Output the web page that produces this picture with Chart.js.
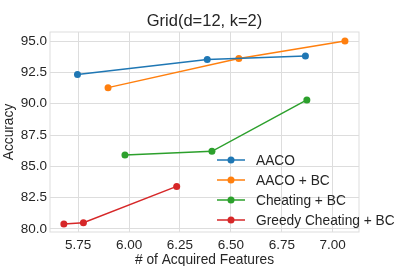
<!DOCTYPE html>
<html>
<head>
<meta charset="utf-8">
<script src="https://cdn.jsdelivr.net/npm/chart.js@4"></script>
<style>
  html, body { margin: 0; padding: 0; background: #fff; }
  #wrap { width: 399px; height: 266px; }
</style>
</head>
<body>
<div id="wrap"><canvas id="grid__chart"></canvas></div>
<script>
// values
const chartTitle = "Grid(d=12, k=2)"
const seriesNames = ["AACO", "AACO + BC", "Cheating + BC", "Greedy Cheating + BC"]
const seriesColors = ["#1f77b4", "#ff7f0e", "#2ca02c", "#d62728"]

const aacoX = [5.747, 6.384, 6.866]
const aacoY = [92.32, 93.52, 93.8]
const aacoBcX = [5.897, 6.539, 7.06]
const aacoBcY = [91.28, 93.6, 95.0]
const cheatX = [5.98, 6.407, 6.873]
const cheatY = [85.91, 86.2, 90.3]
const greedyX = [5.68, 5.776, 6.234]
const greedyY = [80.4, 80.5, 83.4]

const xTicks = [5.75, 6.0, 6.25, 6.5, 6.75, 7.0]
const yTicks = [80.0, 82.5, 85.0, 87.5, 90.0, 92.5, 95.0]

const xs = [aacoX, aacoBcX, cheatX, greedyX]
const ys = [aacoY, aacoBcY, cheatY, greedyY]

const FONT = "'Liberation Sans', Arial, sans-serif"
const TXT = "#262626"
const GRID = "#dddddd"

const datasets = seriesNames.map((name, i) => ({
  label: name,
  data: xs[i].map((x, j) => ({ x: x, y: ys[i][j] })),
  borderColor: seriesColors[i],
  backgroundColor: seriesColors[i],
  borderWidth: 1.5,
  pointRadius: 3.5,
  pointHoverRadius: 3.5,
  pointBorderWidth: 0,
  tension: 0,
}))

// title, box around plot area and a frameless legend, like matplotlib
const boxAndLegend = {
  id: "boxAndLegend",
  beforeDatasetsDraw(chart) {
    const { ctx, chartArea: a } = chart
    ctx.save()
    ctx.strokeStyle = GRID
    ctx.lineWidth = 1
    ctx.strokeRect(a.left, a.top, a.right - a.left, a.bottom - a.top)
    ctx.restore()
  },
  afterDraw(chart) {
    const { ctx, chartArea: a } = chart
    ctx.save()
    ctx.fillStyle = TXT
    ctx.font = "16.5px " + FONT
    ctx.textAlign = "center"
    ctx.textBaseline = "middle"
    ctx.fillText(chartTitle, (a.left + a.right) / 2, 21)

    ctx.font = "13.75px " + FONT
    ctx.textAlign = "left"
    chart.data.datasets.forEach((ds, i) => {
      const y = 160 + i * 20
      ctx.strokeStyle = ds.borderColor
      ctx.lineWidth = 1.5
      ctx.beginPath()
      ctx.moveTo(217, y)
      ctx.lineTo(245, y)
      ctx.stroke()
      ctx.fillStyle = ds.borderColor
      ctx.beginPath()
      ctx.arc(231, y, 3.5, 0, Math.PI * 2)
      ctx.fill()
      ctx.fillStyle = TXT
      ctx.fillText(ds.label, 256, y + 1)
    })
    ctx.restore()
  },
}

const myChart = document.getElementById("grid__chart")
var gridChart = new Chart(myChart, {
  type: "line",
  data: { datasets: datasets },
  plugins: [boxAndLegend],
  options: {
    responsive: true,
    maintainAspectRatio: false,
    animation: false,
    events: [],
    layout: { padding: { left: 0, right: 40, top: 32, bottom: 0 } },
    plugins: {
      legend: { display: false },
      tooltip: { enabled: false },
      title: { display: false },
    },
    scales: {
      x: {
        type: "linear",
        min: 5.612,
        max: 7.129,
        afterBuildTicks: (s) => { s.ticks = xTicks.map((v) => ({ value: v })) },
        afterFit: (s) => { s.height = 34 },
        border: { display: false },
        grid: { color: GRID, lineWidth: 1, drawTicks: false },
        ticks: {
          color: TXT,
          padding: 5,
          font: { family: FONT, size: 13.5 },
          maxRotation: 0,
          callback: (v) => Number(v).toFixed(2),
        },
        title: {
          display: true,
          text: "# of Acquired Features",
          color: TXT,
          font: { family: FONT, size: 13.75 },
          padding: { top: 5, bottom: -2 },
        },
      },
      y: {
        type: "linear",
        min: 79.76,
        max: 95.72,
        afterBuildTicks: (s) => { s.ticks = yTicks.map((v) => ({ value: v })) },
        afterFit: (s) => { s.width = 50 },
        border: { display: false },
        grid: { color: GRID, lineWidth: 1, drawTicks: false },
        ticks: {
          color: TXT,
          padding: 3,
          font: { family: FONT, size: 13.5 },
          callback: (v) => Number(v).toFixed(1),
        },
        title: {
          display: true,
          text: "Accuracy",
          color: TXT,
          font: { family: FONT, size: 13.75 },
          padding: { top: 1, bottom: 2 },
        },
      },
    },
  },
})
</script>
</body>
</html>
